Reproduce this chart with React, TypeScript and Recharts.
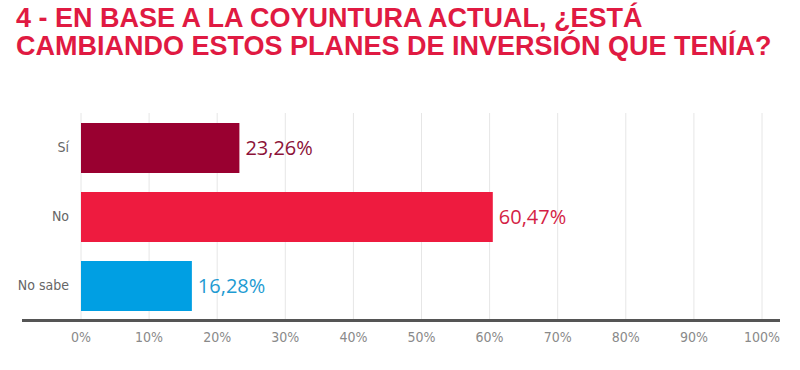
import React from "react";
import { BarChart, Bar, XAxis, YAxis, CartesianGrid, Cell, LabelList } from "recharts";

const categories = ["Sí", "No", "No sabe"];
const values = [23.26, 60.47, 16.28];
const barColors = ["#990030", "#EE1B3F", "#009FE3"];
const labelColors = ["#8C1238", "#D41E45", "#1E9BD2"];
const xTicks = [0, 10, 20, 30, 40, 50, 60, 70, 80, 90, 100];
const titleLines = ["4 - EN BASE A LA COYUNTURA ACTUAL, ¿ESTÁ", "CAMBIANDO ESTOS PLANES DE INVERSIÓN QUE TENÍA?"];

const data = categories.map((name, i) => ({ name, value: values[i] }));

const fmt = (v: number) => v.toFixed(2).replace(".", ",") + "%";

const ValueLabel = (props: any) => {
    const { x, y, width, height, index, value } = props;
    return (
        <text
            x={Number(x) + Number(width) + 6}
            y={Number(y) + Number(height) / 2}
            dy="0.36em"
            fill={labelColors[index] ?? "#333"}
            fontSize={20}
            fontFamily="'Open Sans', sans-serif"
        >
            {fmt(Number(value))}
        </text>
    );
};

export default function App() {
    return (
        <div style={{ position: "absolute", left: 0, top: 0, width: 800, height: 370, background: "#fff" }}>
            <div
                style={{
                    position: "absolute",
                    left: 16,
                    top: 4,
                    fontFamily: "'Liberation Sans', sans-serif",
                    fontWeight: 700,
                    fontSize: 27,
                    color: "#E01A42",
                    whiteSpace: "nowrap",
                }}
            >
                {titleLines.map((t) => (
                    <div key={t} style={{ height: 28, lineHeight: "28px" }}>
                        {t}
                    </div>
                ))}
            </div>
            <BarChart
                width={800}
                height={370}
                data={data}
                layout="vertical"
                margin={{ top: 113, right: 38, bottom: 20, left: 0 }}
                barSize={50}
            >
                <CartesianGrid horizontal={false} stroke="#e6e6e6" />
                <XAxis
                    type="number"
                    domain={[0, 100]}
                    ticks={xTicks}
                    tickFormatter={(v) => `${v}%`}
                    axisLine={false}
                    tickLine={false}
                    height={30}
                    tickMargin={6}
                    tick={{ fill: "#8a8a8a", fontSize: 14, fontFamily: "'DejaVu Sans Condensed', sans-serif" }}
                    interval={0}
                />
                <YAxis
                    type="category"
                    dataKey="name"
                    width={81}
                    axisLine={false}
                    tickLine={false}
                    tickMargin={6}
                    tick={{ fill: "#666", fontSize: 14, fontFamily: "'DejaVu Sans Condensed', sans-serif" }}
                />
                <Bar dataKey="value" isAnimationActive={false}>
                    {data.map((d, i) => (
                        <Cell key={d.name} fill={barColors[i]} />
                    ))}
                    <LabelList dataKey="value" content={<ValueLabel />} />
                </Bar>
            </BarChart>
            <div style={{ position: "absolute", left: 22, top: 319, width: 758, height: 3, background: "#555" }} />
        </div>
    );
}
